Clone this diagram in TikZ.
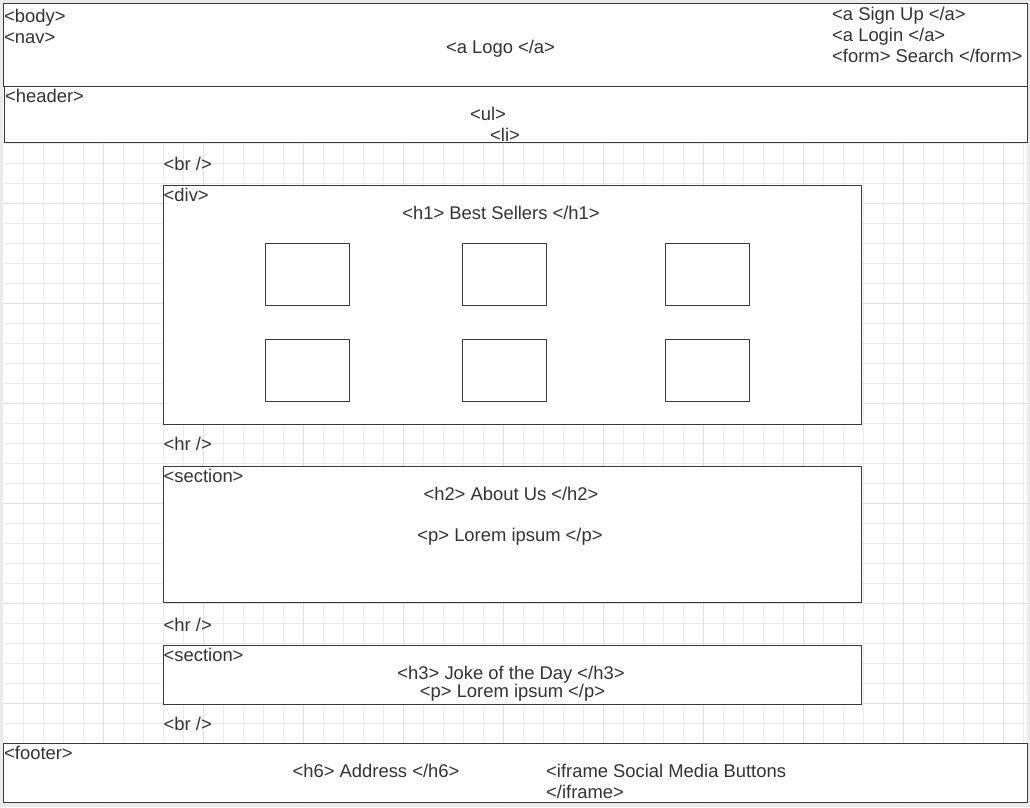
\documentclass[tikz,border=0pt]{standalone}
\usepackage{fontspec}
\setmainfont{Liberation Sans}
\definecolor{linegray}{HTML}{3A3A3A}
\definecolor{textgray}{HTML}{333333}
\definecolor{gridminor}{HTML}{EBEBEB}
\definecolor{gridmajor}{HTML}{E0E0E0}
\definecolor{pagegray}{HTML}{EBEBEB}

\begin{document}
\begin{tikzpicture}[x=1pt,y=-1pt]
\tikzset{box/.style = {draw=linegray, fill=white, line width=1pt}}
\tikzset{tag/.style = {anchor=base west, inner sep=0pt, text=textgray, font=\fontsize{18.4}{21}\selectfont}}
\tikzset{ctag/.style = {tag, anchor=base}}
% page and grid
\fill[pagegray] (0,0) rectangle (1030,807);
\fill[white] (3,3) rectangle (1027,804);
\foreach \x in {23,43,...,1023} \draw[gridminor, line width=0.8pt] (\x,3) -- (\x,804);
\foreach \y in {23,43,...,803} \draw[gridminor, line width=0.8pt] (3,\y) -- (1027,\y);
\foreach \x in {103,203,...,1003} \draw[gridmajor, line width=0.8pt] (\x,3) -- (\x,804);
\foreach \y in {103,203,...,703} \draw[gridmajor, line width=0.8pt] (3,\y) -- (1027,\y);
% boxes
\draw[box] (3,3) rectangle (1027,86);
\draw[box] (4,86) rectangle (1027,142);
\draw[box] (163,185) rectangle (861,424);
\draw[box] (265,243) rectangle (349,305);
\draw[box] (462,243) rectangle (546,305);
\draw[box] (665,243) rectangle (749,305);
\draw[box] (265,339) rectangle (349,401);
\draw[box] (462,339) rectangle (546,401);
\draw[box] (665,339) rectangle (749,401);
\draw[box] (163,466) rectangle (861,602);
\draw[box] (163,645) rectangle (861,704);
\draw[box] (3,743) rectangle (1027,802);
% labels
\node[tag](body) at (4,22) {<body>};
\node[tag](nav) at (4,43) {<nav>};
\node[ctag](logo) at (500.5,53) {<a Logo </a>};
\node[tag](signup) at (832,20) {<a Sign Up </a>};
\node[tag](login) at (832,41) {<a Login </a>};
\node[tag](search) at (832,62) {<form> Search </form>};
\node[tag](header) at (5,102) {<header>};
\node[ctag](ul) at (488,120) {<ul>};
\node[ctag](li) at (505,141) {<li>};
\node[tag](brtop) at (163.5,170) {<br />};
\node[tag](div) at (163.5,201) {<div>};
\node[ctag](hone) at (501,219) {<h1> Best Sellers </h1>};
\node[tag](hrone) at (163.5,450) {<hr />};
\node[tag](secone) at (163.5,482) {<section>};
\node[ctag](htwo) at (511,500) {<h2> About Us </h2>};
\node[ctag](pone) at (510,541) {<p> Lorem ipsum </p>};
\node[tag](hrtwo) at (163.5,631) {<hr />};
\node[tag](sectwo) at (163.5,661) {<section>};
\node[ctag](hthree) at (511,679) {<h3> Joke of the Day </h3>};
\node[ctag](ptwo) at (512.5,697) {<p> Lorem ipsum </p>};
\node[tag](brbot) at (163.5,730) {<br />};
\node[tag](footer) at (4,759) {<footer>};
\node[ctag](hsix) at (376,777) {<h6> Address </h6>};
\node[tag](iframe) at (546,777) {<iframe Social Media Buttons};
\node[tag](iframeend) at (546,798) {</iframe>};
\end{tikzpicture}
\end{document}
